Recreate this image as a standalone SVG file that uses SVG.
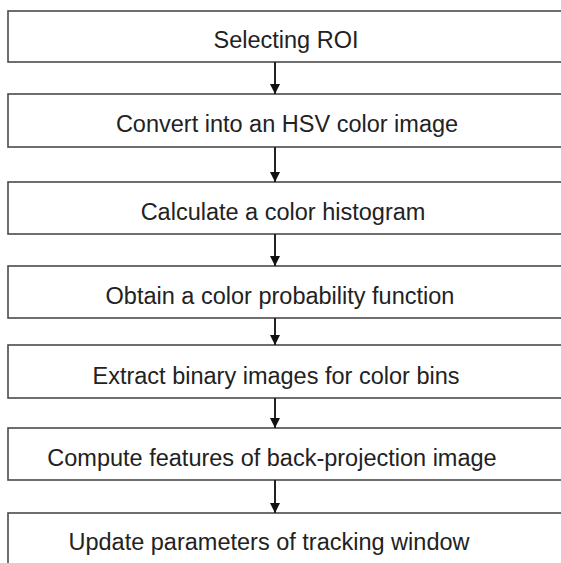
<svg xmlns="http://www.w3.org/2000/svg" width="561" height="563" viewBox="0 0 561 563">
  <defs>
    <style>
      .box { fill: #ffffff; stroke: #4a4a4a; stroke-width: 1.6; }
      .label { font-family: "Liberation Sans", Arial, sans-serif; font-size: 23.5px; fill: #222222; text-anchor: middle; }
      .flow { stroke: #222222; stroke-width: 2; fill: none; }
    </style>
    <marker id="head" viewBox="0 0 10 10" refX="10" refY="5" markerWidth="10" markerHeight="14" markerUnits="userSpaceOnUse" orient="auto">
      <path d="M0,0 L10,5 L0,10 z" fill="#111111"/>
    </marker>
  </defs>
  <rect width="561" height="563" fill="#ffffff"/>

  <!-- process steps, top to bottom -->
  <g id="step1"><rect class="box" x="8" y="11" width="560" height="51"/><text class="label" x="286" y="48">Selecting ROI</text></g>
  <g id="step2"><rect class="box" x="8" y="94" width="560" height="53"/><text class="label" x="287" y="132">Convert into an HSV color image</text></g>
  <g id="step3"><rect class="box" x="8" y="182" width="560" height="52"/><text class="label" x="283" y="220">Calculate a color histogram</text></g>
  <g id="step4"><rect class="box" x="8" y="266" width="560" height="52"/><text class="label" x="280" y="304">Obtain a color probability function</text></g>
  <g id="step5"><rect class="box" x="8" y="345" width="560" height="53"/><text class="label" x="276" y="384">Extract binary images for color bins</text></g>
  <g id="step6"><rect class="box" x="8" y="428" width="560" height="52"/><text class="label" x="272" y="466">Compute features of back-projection image</text></g>
  <g id="step7"><rect class="box" x="8" y="513" width="560" height="60"/><text class="label" x="269" y="550">Update parameters of tracking window</text></g>

  <!-- downward flow arrows between steps -->
  <g id="connectors">
    <line class="flow" x1="275" y1="62" x2="275" y2="94" marker-end="url(#head)"/>
    <line class="flow" x1="275" y1="147" x2="275" y2="182" marker-end="url(#head)"/>
    <line class="flow" x1="275" y1="234" x2="275" y2="266" marker-end="url(#head)"/>
    <line class="flow" x1="275" y1="318" x2="275" y2="345" marker-end="url(#head)"/>
    <line class="flow" x1="275" y1="398" x2="275" y2="428" marker-end="url(#head)"/>
    <line class="flow" x1="275" y1="480" x2="275" y2="513" marker-end="url(#head)"/>
  </g>
</svg>
